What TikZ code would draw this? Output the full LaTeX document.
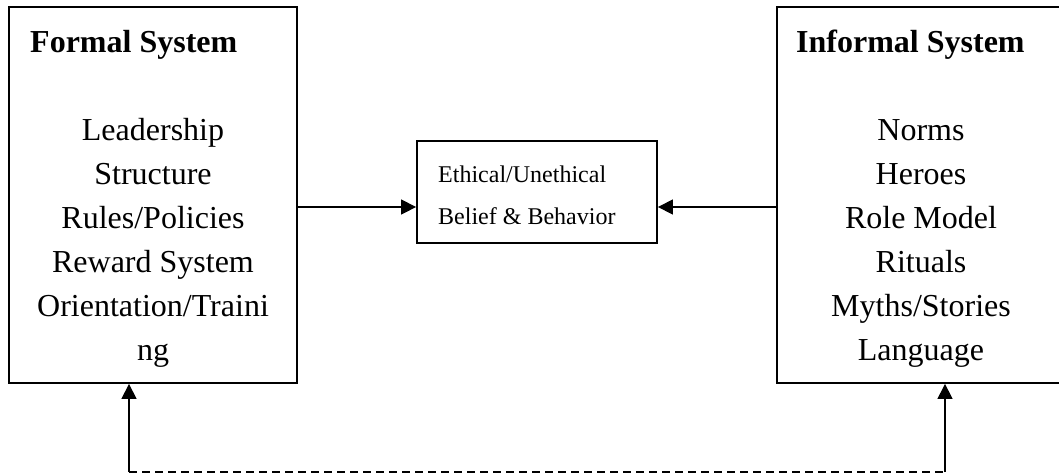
\documentclass[tikz,border=0pt]{standalone}
\usepackage{fontspec}
\setmainfont{Liberation Serif}
\usetikzlibrary{arrows.meta}
\begin{document}
\begin{tikzpicture}[x=1pt,y=-1pt,
  sysbox/.style={draw, line width=1.8pt, minimum width=288pt, minimum height=376pt, inner sep=0pt},
  midbox/.style={draw, line width=1.8pt, minimum width=240pt, minimum height=102pt, inner sep=0pt},
  title/.style={anchor=base west, inner sep=0pt, font=\fontsize{32}{38}\selectfont\bfseries},
  item/.style={anchor=base, inner sep=0pt, font=\fontsize{32}{38}\selectfont},
  midtext/.style={anchor=base west, inner sep=0pt, font=\fontsize{24}{28}\selectfont},
  arr/.style={line width=1.3pt, -{Triangle[length=15pt,width=15pt]}},
  dashline/.style={line width=1.3pt, dash pattern=on 8pt off 5pt}
]
\useasboundingbox (0,0) rectangle (1059,475);
\node[sysbox] (L) at (153,195) {};
\node[sysbox] (R) at (921,195) {};
\node[midbox] (M) at (537,192) {};

\node[title] (Lt) at (30,52) {Formal System};
\node[title] (Rt) at (796,52) {Informal System};

\node[item] (l1) at (153,140) {Leadership};
\node[item] (l2) at (153,184) {Structure};
\node[item] (l3) at (153,228) {Rules/Policies};
\node[item] (l4) at (153,272) {Reward System};
\node[item] (l5) at (153,316) {Orientation/Traini};
\node[item] (l6) at (153,360) {ng};

\node[item] (r1) at (921,140) {Norms};
\node[item] (r2) at (921,184) {Heroes};
\node[item] (r3) at (921,228) {Role Model};
\node[item] (r4) at (921,272) {Rituals};
\node[item] (r5) at (921,316) {Myths/Stories};
\node[item] (r6) at (921,360) {Language};

\node[midtext] (m1) at (438,182) {Ethical/Unethical};
\node[midtext] (m2) at (438,224) {Belief \& Behavior};

\coordinate (ay) at (0,207);
\draw[arr] (L.east |- ay) -- (M.west |- ay);
\draw[arr] (R.west |- ay) -- (M.east |- ay);

\coordinate (bl) at (129,472);
\coordinate (br) at (945,472);
\draw[dashline] (bl) -- (br);
\draw[arr] (bl) -- (bl |- L.south);
\draw[arr] (br) -- (br |- R.south);
\end{tikzpicture}
\end{document}
